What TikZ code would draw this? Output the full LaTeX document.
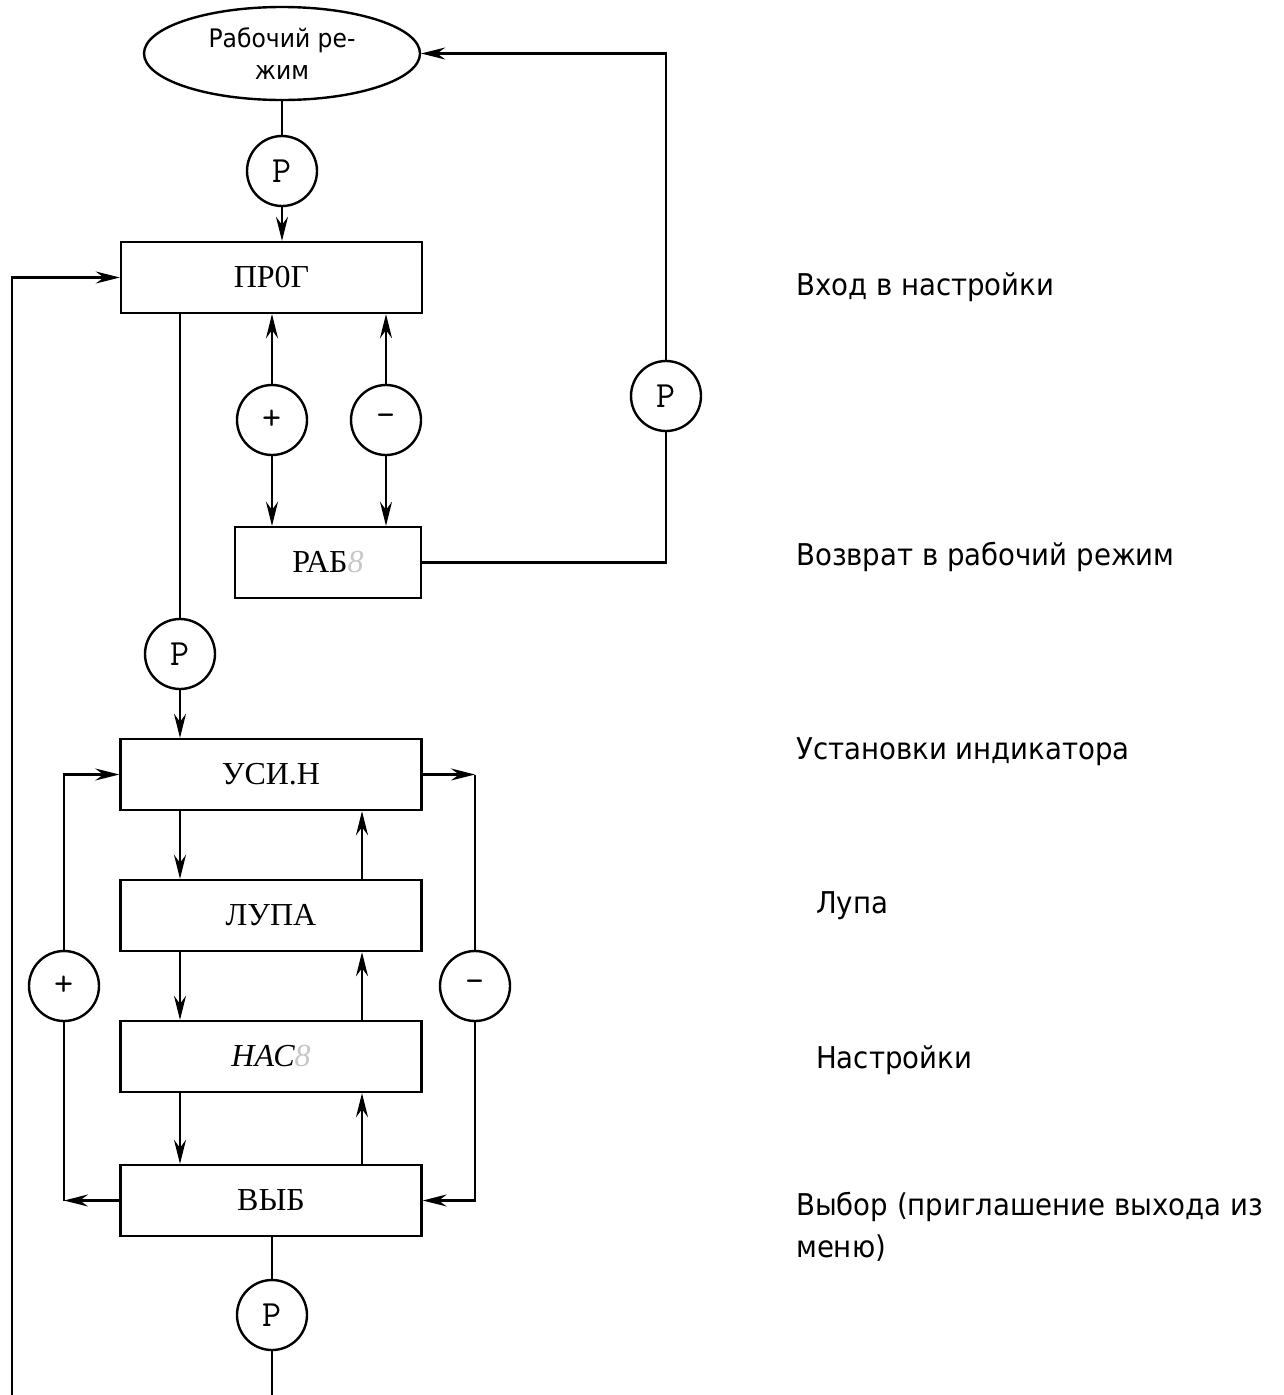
\documentclass[tikz,border=0pt]{standalone}
\usepackage{fontspec}
\setmainfont{Liberation Serif}
\newfontfamily\lblfont[FakeStretch=0.92]{DejaVu Sans}
\usetikzlibrary{shapes.geometric,arrows.meta,calc}
\definecolor{ghost}{gray}{0.78}

\begin{document}
\begin{tikzpicture}[x=1pt,y=-1pt,
  line width=2.4pt,
  arr/.style={-{Stealth[length=24pt,width=12pt,inset=8pt]}},
  stepbox/.style={draw, rectangle, minimum width=301pt, minimum height=71pt,
    inner sep=0pt, font=\fontsize{32}{36}\selectfont},
  key/.style={draw, circle, minimum size=70pt, inner sep=0pt,
    font=\ttfamily\fontsize{37}{40}\selectfont},
  note/.style={anchor=base west, inner sep=0pt,
    font=\lblfont\fontsize{30}{36}\selectfont},
]
\useasboundingbox (0,0) rectangle (1283,1395);

% states and keys
\node[draw, ellipse, minimum width=276pt, minimum height=93pt, inner sep=0pt,
  align=center, font=\lblfont\fontsize{25.5}{31.7}\selectfont]
  (work) at (282,53.5) {Рабочий ре-\\жим};
\node[key] (p1) at (282,171) {P};
\node[stepbox] (prog) at (271.5,277.5) {ПР0Г};
\node[key] (plus1) at (272,420) {+};
\node[key] (minus1) at (386,420) {-};
\node[stepbox, minimum width=186pt] (rab8) at (328,562.5) {РАБ\textcolor{ghost}{\itshape 8}};
\node[key] (p2) at (666,396) {P};
\node[key] (p3) at (180,654) {P};
\node[stepbox] (usin) at (271,774.5) {УСИ.Н};
\node[stepbox] (lupa) at (271,915.5) {ЛУПА};
\node[stepbox] (nas) at (271,1056.5) {\itshape НАС\textcolor{ghost}{8}};
\node[stepbox] (vyb) at (271,1200.5) {ВЫБ};
\node[key] (plus2) at (64,986) {+};
\node[key] (minus2) at (475,986) {-};
\node[key] (p4) at (272,1315) {P};

% helper columns and free ends
\coordinate (up) at (362,0);
\coordinate (loopend) at (12,1395);
\coordinate (exit) at (272,1395);

% entering settings
\draw (work.south) -- (p1.north);
\draw[arr] (p1.south) -- (p1.south |- prog.north);
\draw[arr] (loopend) |- (prog.west);

% return to work mode
\draw[arr] (plus1.north) -- (plus1.north |- prog.south);
\draw[arr] (plus1.south) -- (plus1.south |- rab8.north);
\draw[arr] (minus1.north) -- (minus1.north |- prog.south);
\draw[arr] (minus1.south) -- (minus1.south |- rab8.north);
\draw (rab8.east) -| (p2.south);
\draw[arr] (p2.north) |- (work.east);

% into the menu
\draw (prog.south -| p3) -- (p3.north);
\draw[arr] (p3.south) -- (p3.south |- usin.north);

% menu chain
\draw[arr] (usin.south -| p3) -- (lupa.north -| p3);
\draw[arr] (lupa.south -| p3) -- (nas.north -| p3);
\draw[arr] (nas.south -| p3) -- (vyb.north -| p3);
\draw[arr] (lupa.north -| up) -- (usin.south -| up);
\draw[arr] (nas.north -| up) -- (lupa.south -| up);
\draw[arr] (vyb.north -| up) -- (nas.south -| up);

% wrap-around loops
\draw[arr] (vyb.west) -- (vyb.west -| plus2);
\draw (vyb.west -| plus2) -- (plus2.south);
\draw[arr] (plus2.north) |- (usin.west);
\draw[arr] (usin.east) -- (usin.east -| minus2);
\draw (usin.east -| minus2) -- (minus2.north);
\draw[arr] (minus2.south) |- (vyb.east);

% leaving the menu
\draw (vyb.south -| p4) -- (p4.north);
\draw (p4.south) -- (exit);

% descriptions
\node[note] (n1) at (795,295) {Вход в настройки};
\node[note] (n2) at (795,565) {Возврат в рабочий режим};
\node[note] (n3) at (795,759) {Установки индикатора};
\node[note] (n4) at (815,913) {Лупа};
\node[note] (n5) at (815,1068) {Настройки};
\node[note] (n6) at (795,1215) {Выбор (приглашение выхода из};
\node[note] (n7) at (795,1257) {меню)};
\end{tikzpicture}
\end{document}
